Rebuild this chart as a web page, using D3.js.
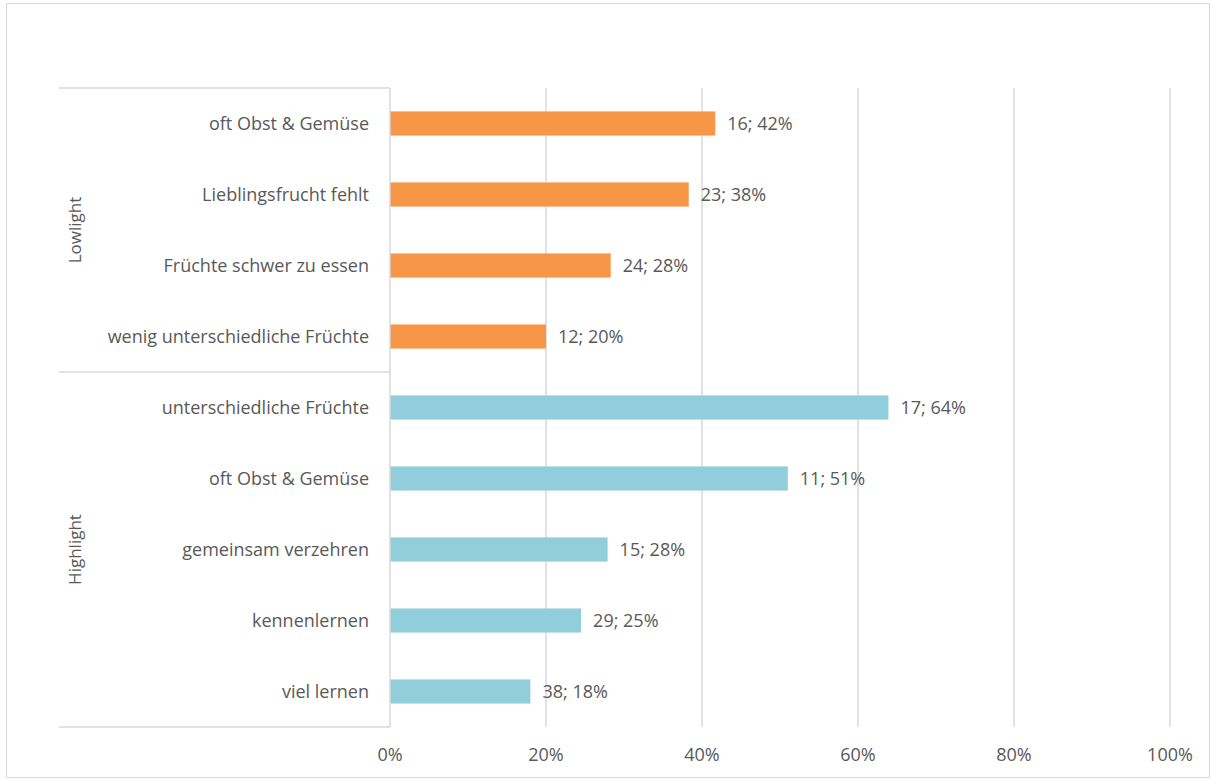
<!DOCTYPE html>
<meta charset="utf-8">
<style>
body { margin: 0; background: #fff; }
text { font-family: "Open Sans", Lato, sans-serif; fill: #595959; }
</style>
<body>
<script src="https://cdn.jsdelivr.net/npm/d3@7"></script>
<script>

// chart data, top to bottom
var groups = ["Lowlight", "Lowlight", "Lowlight", "Lowlight",
              "Highlight", "Highlight", "Highlight", "Highlight", "Highlight"];
var categories = ["oft Obst & Gemüse", "Lieblingsfrucht fehlt", "Früchte schwer zu essen",
                  "wenig unterschiedliche Früchte", "unterschiedliche Früchte",
                  "oft Obst & Gemüse", "gemeinsam verzehren", "kennenlernen", "viel lernen"];
var counts = [16, 23, 24, 12, 17, 11, 15, 29, 38];
var shares = [0.417, 0.383, 0.283, 0.20, 0.639, 0.51, 0.279, 0.245, 0.18];
var ticks = [0, 0.2, 0.4, 0.6, 0.8, 1];

var width = 1212,
    height = 780;

var colors = { Lowlight: "#f79646", Highlight: "#92cddc" };

var svg = d3.select("body").append("svg")
    .attr("width", width)
    .attr("height", height);

// outer frame
svg.append("rect")
    .attr("x", 6.5).attr("y", 3.5)
    .attr("width", 1203).attr("height", 774)
    .attr("fill", "none")
    .attr("stroke", "#d9d9d9");

var x = d3.scaleLinear().domain([0, 1]).range([390, 1170]);
var y = d3.scaleBand()
    .domain(d3.range(categories.length))
    .range([88, 727])
    .paddingInner(0.66)
    .paddingOuter(0.33);

// grid
svg.append("g").selectAll("line")
    .data(ticks.slice(1))
  .enter().append("line")
    .attr("x1", function(d) { return x(d); })
    .attr("x2", function(d) { return x(d); })
    .attr("y1", 88).attr("y2", 727)
    .attr("stroke", "#d9d9d9")
    .attr("stroke-width", 1.5);

// x tick labels
svg.append("g").selectAll("text")
    .data(ticks)
  .enter().append("text")
    .attr("x", function(d) { return x(d); })
    .attr("y", 755)
    .attr("dy", ".35em")
    .attr("text-anchor", "middle")
    .style("font-size", "18px")
    .text(d3.format(".0%"));

// bars
svg.append("g").selectAll("rect")
    .data(shares)
  .enter().append("rect")
    .attr("x", x(0))
    .attr("y", function(d, i) { return y(i); })
    .attr("width", function(d) { return x(d) - x(0); })
    .attr("height", y.bandwidth())
    .attr("fill", function(d, i) { return colors[groups[i]]; });

// value labels
svg.append("g").selectAll("text")
    .data(shares)
  .enter().append("text")
    .attr("x", function(d) { return x(d) + 12; })
    .attr("y", function(d, i) { return y(i) + y.bandwidth() / 2; })
    .attr("dy", ".35em")
    .style("font-size", "18px")
    .text(function(d, i) { return counts[i] + "; " + Math.round(d * 100) + "%"; });

// category labels
svg.append("g").selectAll("text")
    .data(categories)
  .enter().append("text")
    .attr("x", 369)
    .attr("y", function(d, i) { return y(i) + y.bandwidth() / 2; })
    .attr("dy", ".35em")
    .attr("text-anchor", "end")
    .style("font-size", "18px")
    .text(function(d) { return d; });

// category axis lines
var step = y.step();
var groupNames = ["Lowlight", "Highlight"];
var bounds = groupNames.map(function(g) {
  var idx = groups.map(function(d, i) { return d === g ? i : -1; }).filter(function(i) { return i >= 0; });
  return [y(idx[0]) - step * y.paddingOuter(), y(idx[idx.length - 1]) + y.bandwidth() + step * y.paddingOuter()];
});

var axis = svg.append("g")
    .attr("stroke", "#d9d9d9")
    .attr("stroke-width", 1.5);

axis.append("line")
    .attr("x1", x(0)).attr("x2", x(0))
    .attr("y1", 88).attr("y2", 727);

axis.selectAll("line.sep")
    .data([88, bounds[0][1], 727])
  .enter().append("line")
    .attr("class", "sep")
    .attr("x1", 59).attr("x2", x(0))
    .attr("y1", function(d) { return d; })
    .attr("y2", function(d) { return d; });

// group labels
svg.append("g").selectAll("text")
    .data(groupNames)
  .enter().append("text")
    .attr("transform", function(d, i) {
      return "translate(75," + (bounds[i][0] + bounds[i][1]) / 2 + ") rotate(-90)";
    })
    .attr("dy", ".35em")
    .attr("text-anchor", "middle")
    .style("font-size", "17px")
    .text(function(d) { return d; });

</script>
</body>
